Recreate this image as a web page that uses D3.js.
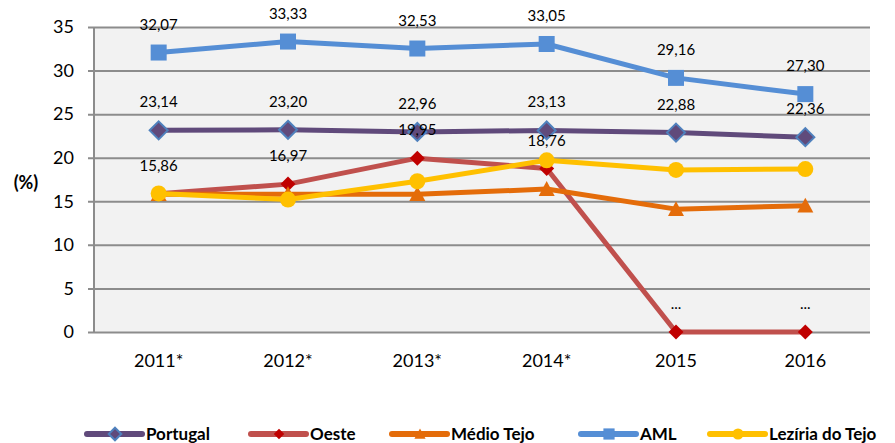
<!DOCTYPE html>
<meta charset="utf-8">
<script src="https://d3js.org/d3.v7.min.js"></script>
<style>
  body { margin: 0; background: #fff; }
  text { font-family: Lato, "Open Sans", sans-serif; }
</style>
<div id="chart"></div>
<script>

// data
var years = ["2011*", "2012*", "2013*", "2014*", "2015", "2016"]
var portugal = [23.14, 23.20, 22.96, 23.13, 22.88, 22.36]
var oeste = [15.86, 16.97, 19.95, 18.76, 0, 0]
var oesteLabels = ["15,86", "16,97", "19,95", "18,76", "...", "..."]
var medioTejo = [15.8, 15.8, 15.8, 16.4, 14.1, 14.5]
var aml = [32.07, 33.33, 32.53, 33.05, 29.16, 27.30]
var leziria = [15.9, 15.2, 17.3, 19.7, 18.6, 18.7]
var yTicks = [0, 5, 10, 15, 20, 25, 30, 35]

var W = 895, H = 443
var margin = {top: 27, right: 25, bottom: 111, left: 94}
var width = W - margin.left - margin.right,
    height = H - margin.top - margin.bottom

var svg = d3.select("#chart").append("svg")
    .attr("width", W).attr("height", H)

var g = svg.append("g")
    .attr("transform", "translate(" + margin.left + "," + margin.top + ")")

var x = d3.scaleBand().domain(years).range([0, width])
var y = d3.scaleLinear().domain([0, 35]).range([height, 0])
var cx = function(d, i) { return x(years[i]) + x.bandwidth() / 2 }

// plot background
g.append("rect")
  .attr("width", width).attr("height", height)
  .attr("fill", "#f2f2f2")

// gridlines + y axis
g.append("g")
  .call(d3.axisLeft(y).tickValues(yTicks).tickSize(-width).tickFormat(function(d){ return d }))
  .call(function(a) {
    a.select(".domain").remove()
    a.selectAll("line").attr("stroke", "#8c8c8c").attr("stroke-width", 2).attr("x1", -6)
    a.selectAll("text").attr("x", -20).attr("font-size", 18).attr("fill", "#000")
  })

g.append("line")
  .attr("x1", 0).attr("x2", 0).attr("y1", 0).attr("y2", height)
  .attr("stroke", "#8c8c8c").attr("stroke-width", 2)

// x labels
g.selectAll(".xl").data(years).enter().append("text")
  .attr("x", function(d) { return x(d) + x.bandwidth() / 2 })
  .attr("y", height + 35)
  .attr("text-anchor", "middle")
  .attr("font-size", 18)
  .text(function(d) { return d })

svg.append("text")
  .attr("x", 26).attr("y", 189)
  .attr("text-anchor", "middle")
  .attr("font-size", 18).attr("font-weight", "bold")
  .text("(%)")

var series = [
  {name: "Portugal", values: portugal, line: "#604a7b", fill: "#604a7b", stroke: "#4f81bd", shape: "diamond", size: 18},
  {name: "Oeste", values: oeste, line: "#c0504d", fill: "#c00000", stroke: "none", shape: "diamond", size: 15},
  {name: "Médio Tejo", values: medioTejo, line: "#e46c0a", fill: "#e46c0a", stroke: "none", shape: "triangle", size: 16},
  {name: "AML", values: aml, line: "#558ed5", fill: "#558ed5", stroke: "none", shape: "square", size: 16},
  {name: "Lezíria do Tejo", values: leziria, line: "#ffc000", fill: "#ffc000", stroke: "none", shape: "circle", size: 16}
]

function marker(sel, s, px, py, scale) {
  var k = scale || 1, r = s.size / 2 * k
  var el
  if (s.shape == "diamond") {
    el = sel.append("path").attr("d", "M" + px + "," + (py - r) + "L" + (px + r) + "," + py + "L" + px + "," + (py + r) + "L" + (px - r) + "," + py + "Z")
  } else if (s.shape == "triangle") {
    el = sel.append("path").attr("d", "M" + px + "," + (py - r) + "L" + (px + r) + "," + (py + r * 0.85) + "L" + (px - r) + "," + (py + r * 0.85) + "Z")
  } else if (s.shape == "square") {
    el = sel.append("rect").attr("x", px - r).attr("y", py - r).attr("width", 2 * r).attr("height", 2 * r)
  } else {
    el = sel.append("circle").attr("cx", px).attr("cy", py).attr("r", r)
  }
  el.attr("fill", s.fill)
  if (s.stroke != "none") el.attr("stroke", s.stroke).attr("stroke-width", 2)
}

var line = d3.line().x(cx).y(function(d) { return y(d) })

series.forEach(function(s) {
  var sg = g.append("g")
  sg.append("path").datum(s.values)
    .attr("d", line)
    .attr("fill", "none")
    .attr("stroke", s.line)
    .attr("stroke-width", 5)
    .attr("stroke-linejoin", "round")
  s.values.forEach(function(v, i) { marker(sg, s, cx(v, i), y(v)) })
})

// data labels
function labels(vals, txt) {
  g.selectAll(null).data(vals).enter().append("text")
    .attr("x", cx)
    .attr("y", function(d) { return y(d) - 23 })
    .attr("text-anchor", "middle")
    .attr("font-size", 15)
    .text(function(d, i) { return txt ? txt[i] : d3.format(".2f")(d).replace(".", ",") })
}
labels(aml)
labels(portugal)
labels(oeste, oesteLabels)

// legend
var legX = [87, 251, 392, 581, 710]
series.forEach(function(s, i) {
  var lg = svg.append("g")
  lg.append("line")
    .attr("x1", legX[i]).attr("x2", legX[i] + 55)
    .attr("y1", 434).attr("y2", 434)
    .attr("stroke", s.line).attr("stroke-width", 6).attr("stroke-linecap", "round")
  marker(lg, s, legX[i] + 28, 434, 0.7)
  lg.append("text")
    .attr("x", legX[i] + 59).attr("y", 440)
    .attr("font-size", 17).attr("font-weight", "bold")
    .text(s.name)
})

</script>
